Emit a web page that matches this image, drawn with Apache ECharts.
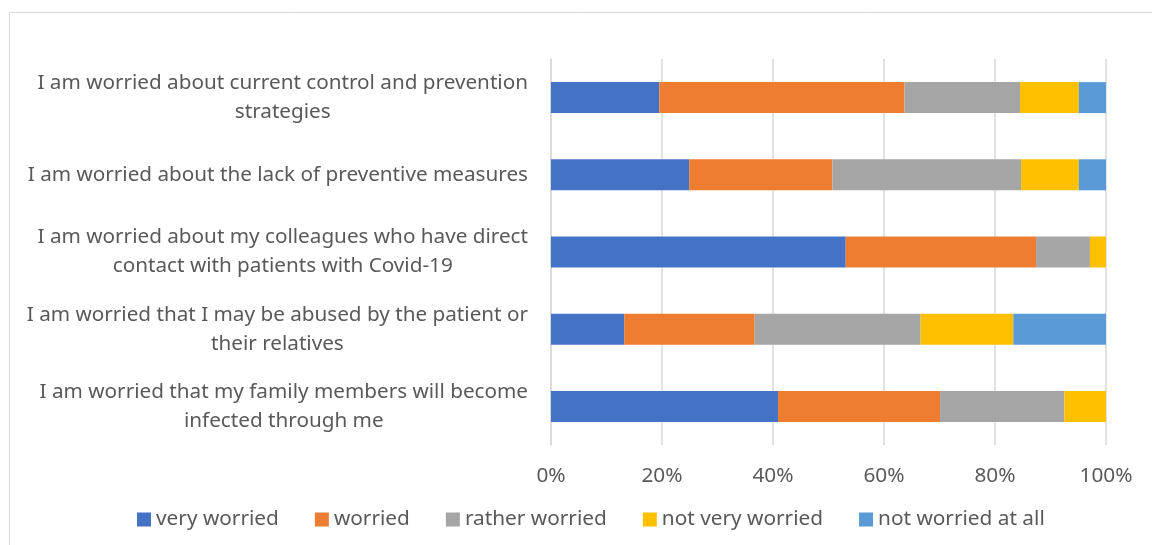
<!DOCTYPE html>
<html>
<head>
<meta charset="utf-8">
<script src="https://cdn.jsdelivr.net/npm/echarts@6/dist/echarts.min.js"></script>
<style>
  html, body { margin: 0; padding: 0; background: #fff; }
  #chart { width: 1152px; height: 545px; }
</style>
</head>
<body>
<div id="chart"></div>
<script>
// statements, top to bottom
const statements = [
  'I am worried about current control and prevention\nstrategies',
  'I am worried about the lack of preventive measures',
  'I am worried about my colleagues who have direct\ncontact with patients with Covid-19',
  'I am worried that I may be abused by the patient or\ntheir relatives',
  'I am worried that my family members will become\ninfected through me'
];

// shares in %, same order as statements
const veryWorried    = [19.5, 24.9, 53.1, 13.2, 40.9];
const worried        = [44.2, 25.8, 34.3, 23.5, 29.2];
const ratherWorried  = [20.8, 34.0,  9.7, 29.9, 22.4];
const notVeryWorried = [10.6, 10.4,  2.9, 16.7,  7.5];
const notWorriedAtAll = [4.9,  4.9,  0.0, 16.7,  0.0];

const seriesNames = ['very worried', 'worried', 'rather worried', 'not very worried', 'not worried at all'];
const seriesColors = ['#4472C4', '#ED7D31', '#A5A5A5', '#FFC000', '#5B9BD5'];
const seriesData = [veryWorried, worried, ratherWorried, notVeryWorried, notWorriedAtAll];

const textColor = '#595959';
const fontFamily = 'Noto Sans, sans-serif';

const chart = echarts.init(document.getElementById('chart'));

const option = {
  animation: false,
  textStyle: { fontFamily: fontFamily },
  graphic: [{
    type: 'rect',
    shape: { x: 9.5, y: 12.5, width: 1160, height: 560 },
    style: { fill: 'none', stroke: '#d9d9d9', lineWidth: 1 },
    silent: true
  }],
  grid: { left: 551, right: 46, top: 59, bottom: 100 },
  legend: {
    data: seriesNames,
    left: 132,
    top: 504,
    itemWidth: 14,
    itemHeight: 14,
    itemGap: 36,
    icon: 'rect',
    textStyle: { color: textColor, fontSize: 20.8, fontFamily: fontFamily }
  },
  xAxis: {
    type: 'value',
    min: 0,
    max: 100,
    interval: 20,
    axisLine: { show: false },
    axisTick: { show: false },
    splitLine: { lineStyle: { color: '#d9d9d9', width: 1.5 } },
    axisLabel: {
      formatter: '{value}%',
      color: textColor,
      fontSize: 20.8,
      margin: 21
    }
  },
  yAxis: {
    type: 'category',
    inverse: true,
    data: statements,
    axisLine: { lineStyle: { color: '#d9d9d9', width: 1.5 } },
    axisTick: { show: false },
    axisLabel: {
      margin: 23,
      align: 'right',
      formatter: function (v) { return '{c|' + v + '}'; },
      rich: {
        c: { align: 'center', color: textColor, fontSize: 20.7, lineHeight: 29, fontFamily: fontFamily }
      }
    }
  },
  series: seriesNames.map(function (name, i) {
    return {
      name: name,
      type: 'bar',
      stack: 'total',
      barWidth: 31,
      itemStyle: { color: seriesColors[i] },
      data: seriesData[i]
    };
  })
};

chart.setOption(option);
</script>
</body>
</html>
